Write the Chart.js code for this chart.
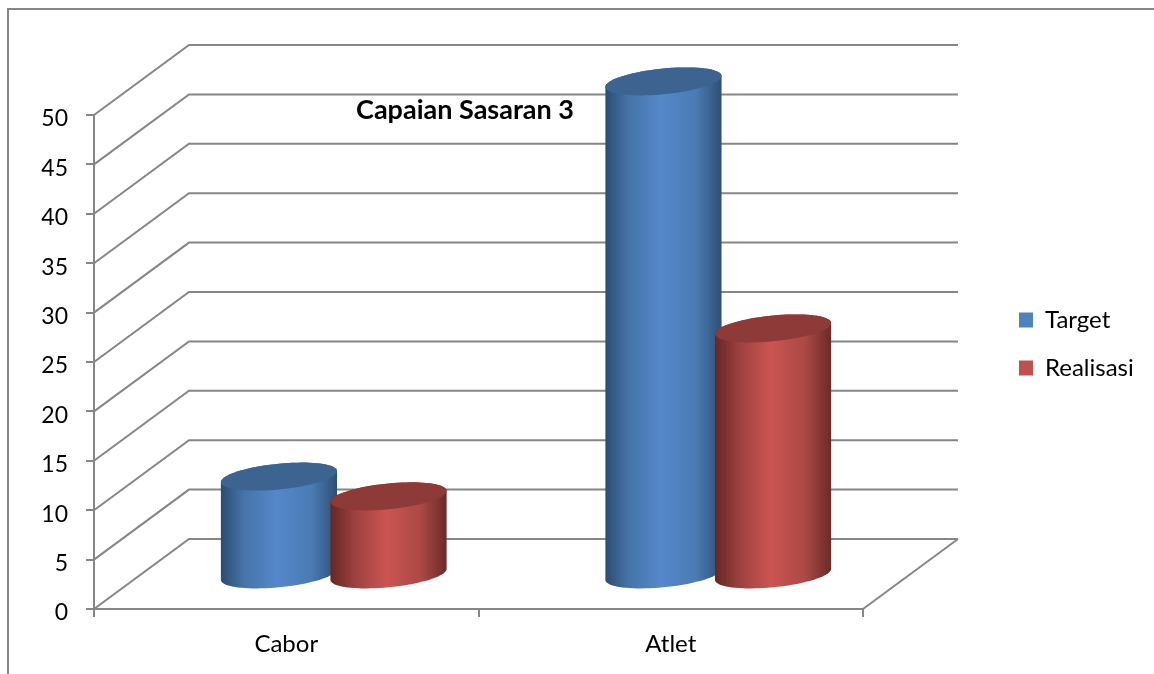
<!DOCTYPE html>
<html>
<head>
<meta charset="utf-8">
<title>Capaian Sasaran 3</title>
<script src="https://cdn.jsdelivr.net/npm/chart.js@4"></script>
<style>
  html, body { margin: 0; padding: 0; background: #fff; overflow: hidden; }
  canvas { display: block; }
</style>
</head>
<body>
<canvas id="chart" width="1154" height="674"></canvas>
<script>
// Chart data
const categories = ['Cabor', 'Atlet'];
const targetValues = [10, 50];
const realisasiValues = [8, 25];

const FONT = 'Lato, Carlito, sans-serif';
const GRID_COLOR = '#868686';
const DEPTH_X = 95;
const DEPTH_Y = -70;

const shades = {
    Target: { top: '#3d6491', stops: ['#2b4c74', '#4674a8', '#5588cb', '#4a7bb3', '#2f4f77'] },
    Realisasi: { top: '#8e3a38', stops: ['#652725', '#9b403e', '#cb5552', '#ab4845', '#6b2a28'] }
};

function line(ctx, points) {
    ctx.beginPath();
    points.forEach((p, i) => i ? ctx.lineTo(p[0], p[1]) : ctx.moveTo(p[0], p[1]));
    ctx.stroke();
}

// Outline of a tilted ellipse, halfW wide, tilt is the rise of the right side
function ellipsePoint(cx, cy, halfW, tilt, halfH, t) {
    return [cx + halfW * Math.cos(t), cy - tilt * Math.cos(t) + halfH * Math.sin(t)];
}

function drawCylinder(ctx, el, shade) {
    const cx = el.x + DEPTH_X / 2;
    const topY = el.y + DEPTH_Y * 0.48;
    const baseY = el.base + DEPTH_Y * 0.48;
    const halfW = el.width / 2;
    const tilt = 5.5;
    const halfH = 12.9;

    const grad = ctx.createLinearGradient(cx - halfW, 0, cx + halfW, 0);
    const offsets = [0, 0.2, 0.48, 0.78, 1];
    shade.stops.forEach((c, i) => grad.addColorStop(offsets[i], c));

    ctx.beginPath();
    for (let i = 0; i <= 40; i++) {
        const p = ellipsePoint(cx, baseY, halfW, tilt, halfH, Math.PI * i / 40);
        ctx.lineTo(p[0], p[1]);
    }
    for (let i = 0; i <= 40; i++) {
        const p = ellipsePoint(cx, topY, halfW, tilt, halfH, Math.PI + Math.PI * i / 40);
        ctx.lineTo(p[0], p[1]);
    }
    ctx.closePath();
    ctx.fillStyle = grad;
    ctx.fill();

    ctx.beginPath();
    for (let i = 0; i <= 80; i++) {
        const p = ellipsePoint(cx, topY, halfW, tilt, halfH, Math.PI * 2 * i / 80);
        ctx.lineTo(p[0], p[1]);
    }
    ctx.closePath();
    ctx.fillStyle = shade.top;
    ctx.fill();
}

const box3d = {
    id: 'box3d',
    beforeLayout(chart) {
        // legend sits far from the plot, so reserve the whole right side
        const legend = chart.legend;
        if (!legend._patched) {
            const fit = legend.fit;
            legend.fit = function () {
                fit.call(this);
                this.width = 291;
            };
            legend._patched = true;
        }
    },
    afterLayout(chart) {
        const legend = chart.legend;
        legend.left = 995;
        legend.right = 1154;
        legend.top = 284;
        legend.bottom = 440;
        const title = chart.titleBlock;
        title.left = 165;
        title.right = 765;
        title.top = 11.2;
    },
    beforeDraw(chart) {
        const ctx = chart.ctx;
        ctx.save();
        ctx.strokeStyle = GRID_COLOR;
        ctx.lineWidth = 2;
        line(ctx, [[8, 674], [8, 9], [1154, 9]]);
        ctx.restore();
    },
    beforeDatasetsDraw(chart) {
        const { ctx, chartArea, scales } = chart;
        ctx.save();
        ctx.strokeStyle = GRID_COLOR;
        ctx.lineWidth = 2;
        scales.y.ticks.forEach(tick => {
            const y = scales.y.getPixelForValue(tick.value);
            line(ctx, [
                [chartArea.left, y],
                [chartArea.left + DEPTH_X, y + DEPTH_Y],
                [chartArea.right + DEPTH_X, y + DEPTH_Y]
            ]);
        });
        line(ctx, [
            [chartArea.right, chartArea.bottom],
            [chartArea.right + DEPTH_X, chartArea.bottom + DEPTH_Y]
        ]);
        ctx.restore();

        // Target first so Realisasi overlaps it, category by category
        chart.data.datasets.forEach((ds, i) => {
            chart.getDatasetMeta(i).data.forEach(el => drawCylinder(ctx, el, shades[ds.label]));
        });
    },
    beforeDatasetDraw() {
        return false;
    }
};

new Chart(document.getElementById('chart'), {
    type: 'bar',
    data: {
        labels: categories,
        datasets: [
            { label: 'Target', data: targetValues, backgroundColor: '#4f81bd', borderWidth: 0 },
            { label: 'Realisasi', data: realisasiValues, backgroundColor: '#c0504d', borderWidth: 0 }
        ]
    },
    plugins: [box3d],
    options: {
        responsive: false,
        animation: false,
        devicePixelRatio: 1,
        categoryPercentage: 0.57,
        barPercentage: 1.06,
        layout: { padding: 0 },
        scales: {
            x: {
                afterFit: s => { s.height = 65; },
                grid: { drawOnChartArea: false, color: GRID_COLOR, lineWidth: 2, tickLength: 8 },
                border: { color: GRID_COLOR, width: 2 },
                ticks: { color: '#000', font: { family: FONT, size: 24 }, padding: 13 }
            },
            y: {
                min: 0,
                max: 50,
                afterFit: s => { s.width = 94; },
                grid: { drawOnChartArea: false, color: GRID_COLOR, lineWidth: 2, tickLength: 8 },
                border: { color: GRID_COLOR, width: 2 },
                ticks: { stepSize: 5, color: '#000', font: { family: FONT, size: 23 }, padding: 18, labelOffset: 4 }
            }
        },
        plugins: {
            tooltip: { enabled: false },
            title: {
                display: true,
                text: 'Capaian Sasaran 3',
                color: '#000',
                font: { family: FONT, size: 27, weight: 'bold', lineHeight: 1.2 },
                padding: { top: 82.6, bottom: 0 }
            },
            legend: {
                position: 'right',
                align: 'start',
                labels: {
                    color: '#000',
                    font: { family: FONT, size: 24, lineHeight: 1.2 },
                    boxWidth: 14,
                    boxHeight: 15,
                    padding: 24
                }
            }
        }
    }
});
</script>
</body>
</html>
